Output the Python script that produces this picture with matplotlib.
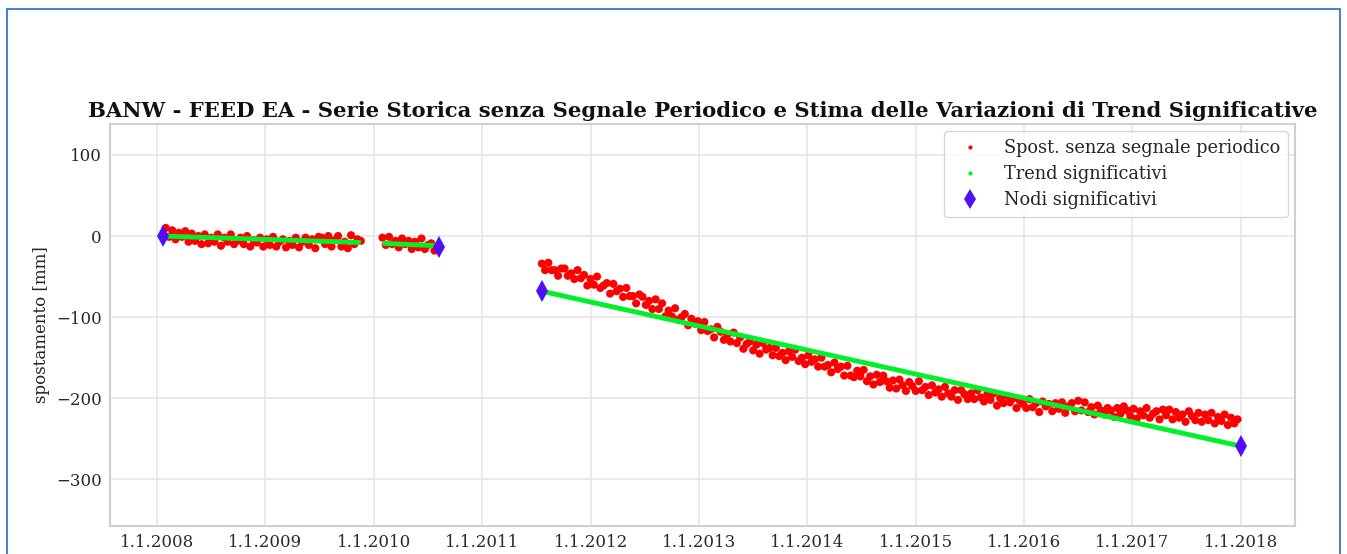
import numpy as np
import matplotlib.pyplot as plt
from matplotlib.lines import Line2D
from matplotlib.patches import Rectangle

# displacement without periodic signal [mm], three observation blocks
seg1_start, seg1_end = 2008.08, 2009.88
seg1_vals = [10, -1, 7, -4, 4, -1, 6, -7, 3, -6, 0, -10,
             2, -9, -2, -7, 2, -12, -2, -7, 2, -10, -6, -2,
             -10, 0, -13, -5, -8, -2, -13, -4, -11, -1, -13, -7,
             -4, -14, -6, -11, -2, -14, -7, -2, -11, -4, -15, -1,
             -2, -10, 0, -13, -5, 0, -13, -7, -15, 1, -10, -4,
             -6]

seg2_start, seg2_end = 2010.08, 2010.56
seg2_vals = [-2, -11, -1, -10, -6, -14, -3, -10, -6, -16, -7, -14,
             -3, -16, -11, -9, -18]

seg3_start, seg3_end = 2011.55, 2017.97
seg3_vals = [-34, -42, -33, -42, -42, -49, -40, -40, -49, -46, -53, -42,
             -52, -48, -61, -53, -60, -50, -64, -61, -58, -71, -59, -68,
             -65, -75, -64, -74, -74, -83, -72, -75, -85, -80, -90, -78,
             -90, -83, -99, -92, -99, -89, -103, -100, -96, -110, -102, -108,
             -105, -116, -106, -117, -115, -125, -112, -118, -128, -122, -130, -119,
             -132, -125, -139, -133, -130, -141, -134, -145, -132, -140, -138, -147,
             -138, -148, -144, -153, -142, -149, -140, -154, -150, -158, -147, -155,
             -152, -161, -150, -161, -159, -168, -156, -164, -161, -172, -160, -172,
             -174, -166, -173, -165, -179, -173, -183, -171, -180, -172, -179, -187,
             -178, -188, -177, -184, -191, -180, -185, -191, -179, -190, -186, -196,
             -184, -193, -189, -198, -186, -194, -198, -190, -202, -190, -195, -201,
             -194, -201, -190, -199, -204, -195, -202, -194, -209, -200, -206, -197,
             -205, -200, -212, -203, -207, -212, -201, -211, -206, -217, -204, -210,
             -207, -216, -206, -213, -205, -218, -210, -206, -216, -203, -215, -205,
             -217, -211, -220, -209, -215, -220, -212, -215, -223, -212, -219, -210,
             -215, -222, -213, -225, -216, -221, -212, -224, -219, -216, -226, -214,
             -221, -214, -226, -217, -224, -220, -229, -216, -222, -227, -218, -229,
             -220, -227, -218, -231, -223, -228, -220, -233, -224, -231, -226]

# significant trends (start/end of each piece)
trend_x = [[2008.05, 2009.88], [2010.08, 2010.60], [2011.55, 2018.0]]
trend_y = [[0, -8], [-9, -12], [-68, -259]]

# significant nodes
node_x = [2008.05, 2010.60, 2011.55, 2018.0]
node_y = [0, -14, -68, -259]

years = list(range(2008, 2019))
year_labels = ['1.1.%d' % y for y in years]

plt.style.use('seaborn-v0_8-whitegrid')
plt.rcParams['font.family'] = ['DejaVu Serif']

fig = plt.figure(figsize=(13.47, 5.54), dpi=100)
ax = fig.add_axes([0.0817, 0.0505, 0.8797, 0.7255])

for start, end, vals in [(seg1_start, seg1_end, seg1_vals),
                         (seg2_start, seg2_end, seg2_vals),
                         (seg3_start, seg3_end, seg3_vals)]:
    t = np.linspace(start, end, len(vals))
    ax.scatter(t, vals, s=34, color='#ff0000', edgecolors='none', zorder=2)

for tx, ty in zip(trend_x, trend_y):
    ax.plot(tx, ty, color='#00f02a', lw=3.5, solid_capstyle='butt', zorder=3)

ax.plot(node_x, node_y, 'd', color='#5010f5', ms=11, mew=0, zorder=4)

ax.set_xlim(2007.566, 2018.50)
ax.set_ylim(-357.5, 138)
ax.set_xticks(years)
ax.set_xticklabels(year_labels)
ax.set_yticks([-300, -200, -100, 0, 100])
ax.tick_params(labelsize=12, colors='#2a2a2a', pad=6)
ax.grid(color='#e6e6e6', lw=1.2)
for sp in ax.spines.values():
    sp.set_visible(True)
    sp.set_color('#cfcfcf')
    sp.set_linewidth(1.5)

ax.set_ylabel('spostamento [mm]', fontsize=12, color='#222222')
ax.set_title('BANW - FEED EA - Serie Storica senza Segnale Periodico e Stima delle Variazioni di Trend Significative',
             fontsize=15.2, fontweight='bold', color='#111111', pad=5)

handles = [Line2D([], [], ls='none', marker='.', color='#ff0000', ms=4),
           Line2D([], [], ls='none', marker='.', color='#00f02a', ms=4),
           Line2D([], [], ls='none', marker='d', color='#5010f5', ms=10, mew=0)]
labels = ['Spost. senza segnale periodico', 'Trend significativi', 'Nodi significativi']
ax.legend(handles, labels, loc='upper right', frameon=True, fontsize=12.8,
          borderpad=0.45, handletextpad=0.9, labelspacing=0.45,
          borderaxespad=0.4)

# blue screenshot frame
fig.patches.append(Rectangle((7 / 1347, -0.1), 1333 / 1347, 1.1 - 9 / 554,
                             transform=fig.transFigure, fill=False,
                             edgecolor='#4f83c8', lw=1.5))

fig.savefig('out.png', dpi=100)
